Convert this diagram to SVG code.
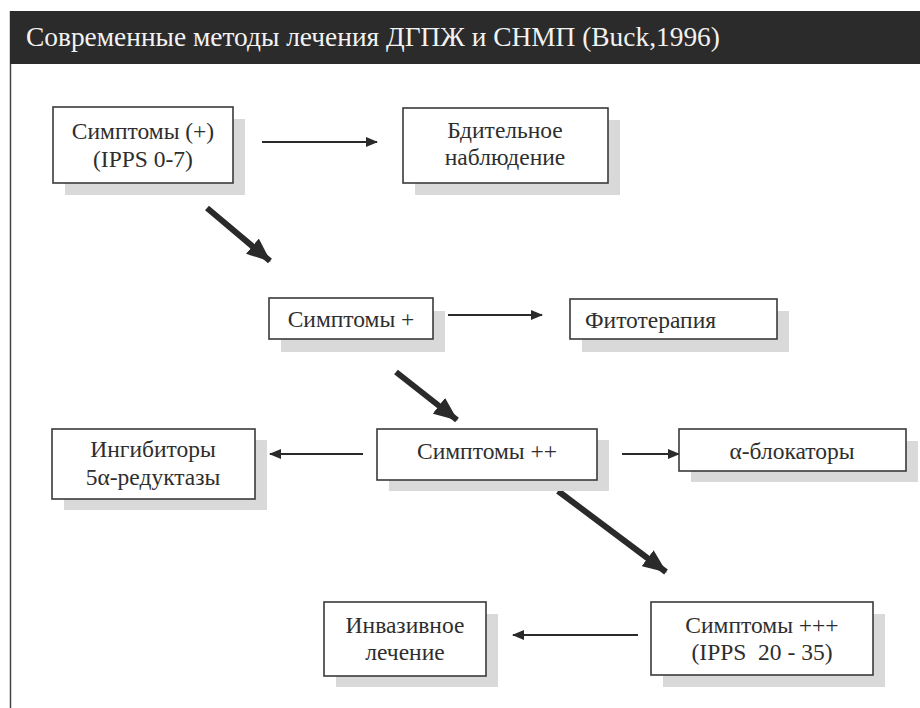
<svg xmlns="http://www.w3.org/2000/svg" width="920" height="708" viewBox="0 0 920 708">
<style>
.sh{fill:#d9d9d9}
.bx{fill:#fff;stroke:#3a3a3a;stroke-width:1.6}
.t{font-family:"Liberation Serif","DejaVu Serif",serif;font-size:23.5px;fill:#2e2e2e;text-anchor:middle}
.thin{stroke:#2a2a2a;stroke-width:2;fill:none}
.thick{stroke:#2a2a2a;stroke-width:6;fill:none}
</style>
<defs>
<marker id="ah" viewBox="0 0 12 10" refX="11" refY="5" markerWidth="12" markerHeight="10" markerUnits="userSpaceOnUse" orient="auto">
<path d="M0,0 L12,5 L0,10 z" fill="#2a2a2a"/>
</marker>
<marker id="ahb" viewBox="0 0 24 20" refX="23" refY="10" markerWidth="24" markerHeight="20" markerUnits="userSpaceOnUse" orient="auto">
<path d="M0,0 L24,10 L0,20 z" fill="#2a2a2a"/>
</marker>
</defs>
<rect width="920" height="708" fill="#fff"/>
<g id="header">
<line x1="10.5" y1="11" x2="10.5" y2="708" stroke="#444" stroke-width="1.5"/>
<rect x="10" y="11" width="910" height="53" fill="#2b2b2b"/>
<text x="26" y="46" style="font-family:'Liberation Serif','DejaVu Serif',serif;font-size:27.4px;fill:#f2f2f2">Современные методы лечения ДГПЖ и СНМП (Buck,1996)</text>
</g>
<g id="connectors">
<line class="thin" x1="262" y1="142" x2="377" y2="142" marker-end="url(#ah)"/>
<line class="thick" x1="207" y1="208" x2="270" y2="261" marker-end="url(#ahb)"/>
<line class="thin" x1="448" y1="315" x2="542" y2="315" marker-end="url(#ah)"/>
<line class="thick" x1="396" y1="372" x2="457" y2="420" marker-end="url(#ahb)"/>
<line class="thin" x1="363" y1="454" x2="270" y2="454" marker-end="url(#ah)"/>
<line class="thin" x1="622" y1="454" x2="679" y2="454" marker-end="url(#ah)"/>
<line class="thick" x1="558" y1="491" x2="666" y2="572" marker-end="url(#ahb)"/>
<line class="thin" x1="638" y1="635" x2="513" y2="635" marker-end="url(#ah)"/>
</g>
<g id="n1">
<rect class="sh" x="65" y="119" width="180" height="76"/>
<rect class="bx" x="53" y="107" width="180" height="76"/>
<text class="t" x="143" y="139">Симптомы (+)</text>
<text class="t" x="143" y="167">(IPPS 0-7)</text>
</g>
<g id="n2">
<rect class="sh" x="415" y="120" width="205" height="75"/>
<rect class="bx" x="403" y="108" width="205" height="75"/>
<text class="t" x="505" y="138">Бдительное</text>
<text class="t" x="505" y="165">наблюдение</text>
</g>
<g id="n3">
<rect class="sh" x="281" y="311" width="164" height="41"/>
<rect class="bx" x="269" y="298" width="164" height="41"/>
<text class="t" x="351" y="327">Симптомы +</text>
</g>
<g id="n4">
<rect class="sh" x="582" y="311" width="207" height="41"/>
<rect class="bx" x="570" y="299" width="207" height="40"/>
<text class="t" x="585" y="328" style="text-anchor:start">Фитотерапия</text>
</g>
<g id="n5">
<rect class="sh" x="389" y="440" width="220" height="51"/>
<rect class="bx" x="377" y="429" width="220" height="51"/>
<text class="t" x="487" y="459">Симптомы ++</text>
</g>
<g id="n6">
<rect class="sh" x="64" y="440" width="203" height="70"/>
<rect class="bx" x="52" y="429" width="203" height="70"/>
<text class="t" x="153" y="457">Ингибиторы</text>
<text class="t" x="153" y="485">5α-редуктазы</text>
</g>
<g id="n7">
<rect class="sh" x="691" y="441" width="227" height="41"/>
<rect class="bx" x="679" y="429" width="227" height="42"/>
<text class="t" x="792" y="459">α-блокаторы</text>
</g>
<g id="n8">
<rect class="sh" x="663" y="614" width="222" height="73"/>
<rect class="bx" x="651" y="602" width="222" height="73"/>
<text class="t" x="762" y="633">Симптомы +++</text>
<text class="t" x="762" y="660" xml:space="preserve">(IPPS  20 - 35)</text>
</g>
<g id="n9">
<rect class="sh" x="336" y="614" width="162" height="73"/>
<rect class="bx" x="324" y="602" width="162" height="74"/>
<text class="t" x="405" y="633">Инвазивное</text>
<text class="t" x="405" y="660">лечение</text>
</g>
</svg>
